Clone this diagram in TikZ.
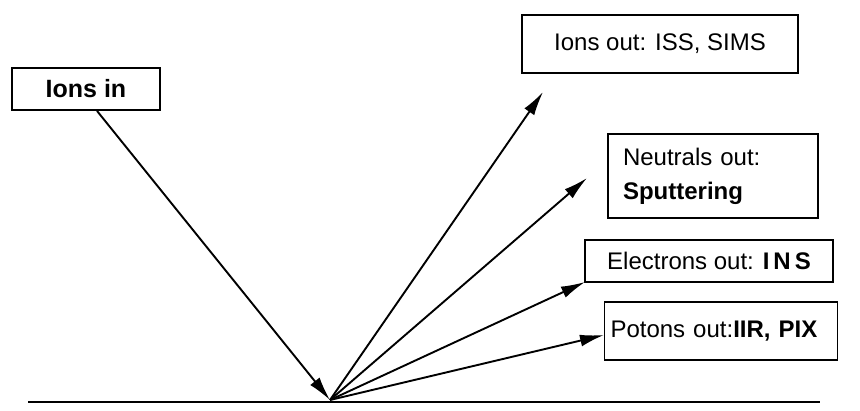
\documentclass[tikz,border=0pt]{standalone}
\usepackage{fontspec}
\setmainfont{Liberation Sans}
\usetikzlibrary{arrows.meta,calc}
\begin{document}
\begin{tikzpicture}[x=1pt,y=-1pt,
  box/.style={draw, line width=1.8pt, inner sep=0pt, font=\fontsize{24}{34}\selectfont},
  ray/.style={line width=1.9pt, -{Latex[length=24pt,width=12pt]}},
  ground/.style={line width=2pt}]
\useasboundingbox (0,0) rectangle (860,410);
% boxes
\node[box, minimum width=148pt, minimum height=42pt, font=\fontsize{25}{30}\selectfont] (ionsin) at (86,89) {\textbf{Ions in}};
\node[box, minimum width=276pt, minimum height=58pt] (ionsout) at (660,44) {Ions out: ISS, SIMS};
\node[box, minimum width=210pt, minimum height=84pt, text width=180pt, inner xsep=15pt, align=left] (neutrals) at (713,176) {Neutrals out:\\\textbf{Sputtering}};
\node[box, minimum width=248pt, minimum height=42pt] (electrons) at (709,261) {Electrons out: \textbf{I\,N\,S}};
\node[box, minimum width=233pt, minimum height=58pt, text width=221pt, inner xsep=6pt, align=left] (potons) at (721,331) {Potons out:\textbf{IIR, PIX}};
% points
\coordinate (O) at (330,400);
\coordinate (gl) at (28,402);
\coordinate (gr) at (820,402);
\coordinate (t1) at (543,92);
\coordinate (t2) at (587,178);
\coordinate (t3) at (585,282);
\coordinate (t4) at (604,335);
% ground line
\draw[ground] (gl) -- (gr);
% rays
\draw[ray] ($(ionsin.south)+(11,0)$) -- (O);
\draw[ray] (O) -- (t1);
\draw[ray] (O) -- (t2);
\draw[ray] (O) -- (t3);
\draw[ray] (O) -- (t4);
\end{tikzpicture}
\end{document}
